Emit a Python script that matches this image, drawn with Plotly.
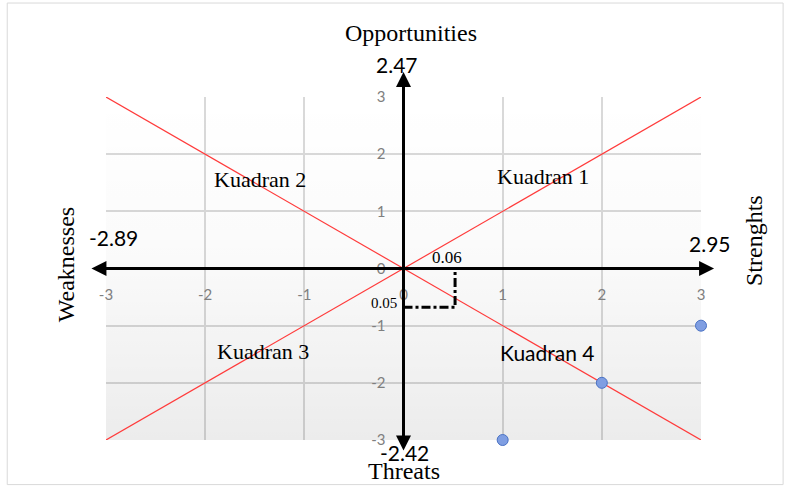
import plotly.graph_objects as go

# tick values on both axes
ticks = [-3, -2, -1, 0, 1, 2, 3]
tick_text = ["-3", "-2", "-1", "0", "1", "2", "3"]

# IFAS / EFAS totals shown at the arrow tips
strengths = 2.95
weaknesses = -2.89
opportunities = 2.47
threats = -2.42

# internal / external scores (the 0.06 / 0.05 markers)
x_score = 0.52
y_score = -0.68
x_score_label = "0.06"
y_score_label = "0.05"

# scatter points
pts_x = [1, 2, 3]
pts_y = [-3, -2, -1]

# red diagonals
diag1_x = [-3, 3]
diag1_y = [3, -3]
diag2_x = [-3, 3]
diag2_y = [-3, 3]

quad_names = ["Kuadran 1", "Kuadran 2", "Kuadran 3", "Kuadran 4"]
quad_x = [1.41, -1.45, -1.42, 1.45]
quad_y = [1.61, 1.56, -1.45, -1.47]

SERIF = "Liberation Serif"
SANS = "Lato"
lo, hi = ticks[0], ticks[-1]
DX, DY = "x domain", "y domain"

fig = go.Figure()

# soft vertical gradient in the plot area
fig.add_trace(go.Scatter(
    x=[lo, hi, hi, lo, lo], y=[lo, lo, hi, hi, lo],
    fill="toself", mode="none", hoverinfo="skip",
    fillgradient=dict(type="vertical",
                      colorscale=[[0, "rgba(0,0,0,0.075)"], [0.55, "rgba(0,0,0,0.018)"],
                                  [1, "rgba(0,0,0,0)"]]),
))

fig.add_trace(go.Scatter(x=diag1_x, y=diag1_y, mode="lines",
                         line=dict(color="#ff3b3b", width=1.2), hoverinfo="skip"))
fig.add_trace(go.Scatter(x=diag2_x, y=diag2_y, mode="lines",
                         line=dict(color="#ff3b3b", width=1.2), hoverinfo="skip"))

# dashed score guides
fig.add_trace(go.Scatter(x=[0, x_score, x_score], y=[y_score, y_score, 0], mode="lines",
                         line=dict(color="black", width=3, dash="dashdot"), hoverinfo="skip"))

fig.add_trace(go.Scatter(x=pts_x, y=pts_y, mode="markers", cliponaxis=False,
                         marker=dict(size=11, color="#7f9ee2",
                                     line=dict(color="#4a72c4", width=1))))

# axis arrows (double headed)
fig.add_annotation(x=1.022, y=0.5, ax=-0.027, ay=0.5, xref=DX, yref=DY, axref=DX, ayref=DY,
                   text="", showarrow=True, arrowhead=2, arrowside="end+start",
                   arrowsize=1, arrowwidth=3, arrowcolor="black")
fig.add_annotation(x=0.5, y=1.073, ax=0.5, ay=-0.035, xref=DX, yref=DY, axref=DX, ayref=DY,
                   text="", showarrow=True, arrowhead=2, arrowside="end+start",
                   arrowsize=1, arrowwidth=3, arrowcolor="black")

big = dict(family=SANS, size=21, color="black")
title_font = dict(family=SERIF, size=24, color="black")


def note(x, y, text, font, **kw):
    fig.add_annotation(x=x, y=y, xref=DX, yref=DY, text=text, showarrow=False,
                       xanchor="center", yanchor="middle", font=font, **kw)


# values at arrow tips
note(0.489, 1.096, f"{opportunities:.2f}", big)
note(0.502, -0.035, f"{threats:.2f}", big)
note(0.012, 0.589, f"{weaknesses:.2f}", big)
note(1.015, 0.574, f"{strengths:.2f}", big)

# axis titles
note(0.513, 1.187, "Opportunities", title_font)
note(0.501, -0.09, "Threats", title_font)
note(-0.067, 0.51, "Weaknesses", title_font, textangle=-90)
note(1.089, 0.583, "Strenghts", title_font, textangle=-90)

# score labels
fig.add_annotation(x=0.44, y=0.2, text=x_score_label, showarrow=False,
                   font=dict(family=SERIF, size=17, color="black"))
fig.add_annotation(x=-0.2, y=-0.6, text=y_score_label, showarrow=False,
                   font=dict(family=SERIF, size=15, color="black"))

for name, qx, qy in zip(quad_names, quad_x, quad_y):
    fam = SANS if name.endswith("4") else SERIF
    fig.add_annotation(x=qx, y=qy, text=name, showarrow=False,
                       font=dict(family=fam, size=21 if fam == SANS else 22, color="black"))

# outer frame
fig.add_shape(type="rect", xref="paper", yref="paper", x0=-0.166, x1=1.138, y0=-0.13, y1=1.274,
              line=dict(color="#d9d9d9", width=1), layer="below")

axis_common = dict(
    range=[lo, hi], tickvals=ticks, ticktext=tick_text,
    showgrid=True, gridcolor="#d9d9d9", gridwidth=1.5,
    zeroline=False, showline=False, anchor="free", position=0.5,
    ticks="outside", tickcolor="rgba(0,0,0,0)",
    tickfont=dict(family=SANS, size=15, color="#7f7f7f"),
    fixedrange=True,
)
fig.update_layout(
    width=788, height=489,
    margin=dict(l=106, r=87, t=97, b=49),
    paper_bgcolor="white", plot_bgcolor="white",
    showlegend=False,
    xaxis=dict(axis_common, ticklen=12),
    yaxis=dict(axis_common, ticklen=15),
)

# drop the page's default body margin so the figure sits at the top-left corner
fig.write_html("out.html", config={"displayModeBar": False},
               post_script="document.body.style.margin='0';")
